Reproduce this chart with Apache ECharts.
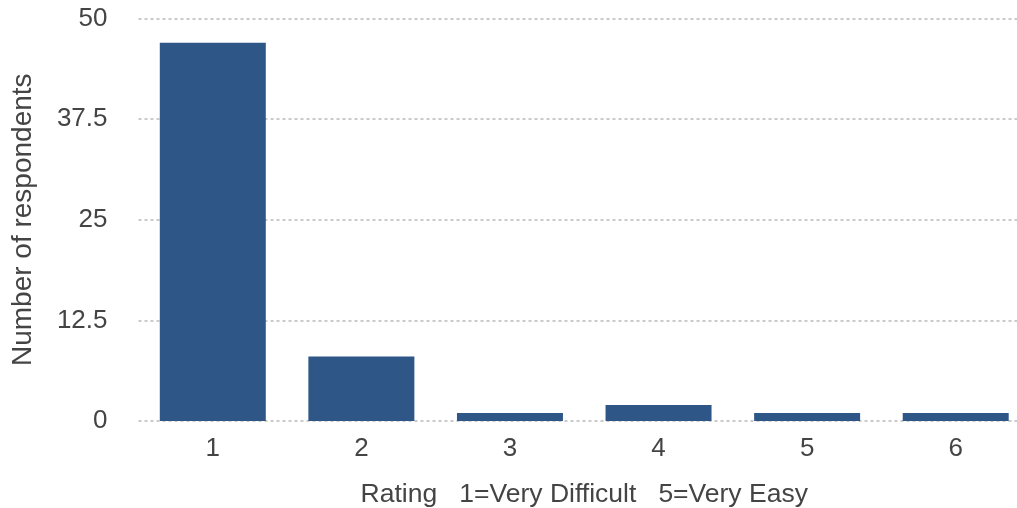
<!DOCTYPE html>
<html>
<head>
<meta charset="utf-8">
<script src="https://cdn.jsdelivr.net/npm/echarts@6/dist/echarts.min.js"></script>
<style>
  html, body { margin: 0; padding: 0; background: #fff; }
  #chart { width: 1017px; height: 508px; }
</style>
</head>
<body>
<div id="chart"></div>
<script>
// Ratings and how many respondents gave each one
const ratings = ['1', '2', '3', '4', '5', '6'];
const respondents = [47, 8, 1, 2, 1, 1];
const yTicks = [0, 12.5, 25, 37.5, 50];

const textColor = '#444';
const font = '"Liberation Sans", Arial, sans-serif';

const chart = echarts.init(document.getElementById('chart'), null, { renderer: 'canvas' });
chart.setOption({
  animation: false,
  backgroundColor: '#fff',
  // the plot runs a little past the right edge of the canvas, so the last band is cut off
  grid: { left: 138.5, width: 891.5, top: 18.5, height: 402.5, outerBoundsMode: 'none', containLabel: false },
  xAxis: {
    type: 'category',
    data: ratings,
    name: 'Rating   1=Very Difficult   5=Very Easy',
    nameLocation: 'middle',
    nameGap: 60,
    nameTextStyle: { color: textColor, fontSize: 26.5, fontFamily: font },
    axisLine: { show: false },
    axisTick: { show: false },
    axisLabel: { color: textColor, fontSize: 26, fontFamily: font, margin: 15 }
  },
  yAxis: {
    type: 'value',
    min: yTicks[0],
    max: yTicks[yTicks.length - 1],
    interval: yTicks[1] - yTicks[0],
    name: 'Number of respondents',
    nameLocation: 'middle',
    nameGap: 101,
    nameTextStyle: { color: textColor, fontSize: 28, fontFamily: font },
    axisLine: { show: false },
    axisTick: { show: false },
    axisLabel: { color: textColor, fontSize: 26, fontFamily: font, margin: 31 },
    splitLine: { lineStyle: { color: '#bbb', type: [3, 3], width: 1.5 } }
  },
  series: [{
    type: 'bar',
    data: respondents,
    barWidth: 106,
    itemStyle: { color: '#2e5687' }
  }]
});
</script>
</body>
</html>
